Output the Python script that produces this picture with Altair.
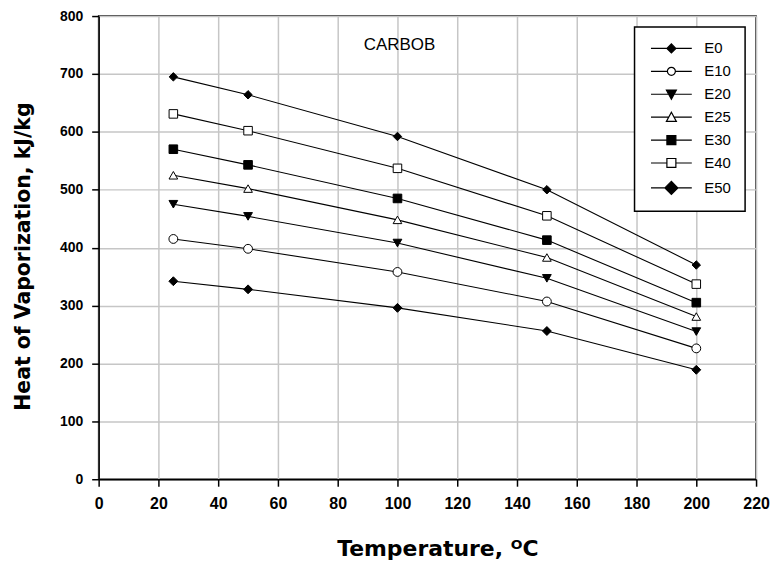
import altair as alt
import pandas as pd

# ---- data ----
temps = [25, 50, 100, 150, 200]
series_names = ["E0", "E10", "E20", "E25", "E30", "E40", "E50"]
e0 = [342, 328, 296, 256, 189]
e10 = [415, 398, 358, 307, 226]
e20 = [475, 454, 408, 347, 255]
e25 = [525, 502, 448, 383, 281]
e30 = [570, 543, 485, 413, 305]
e40 = [631, 602, 537, 455, 337]
e50 = [695, 664, 592, 500, 370]
x_ticks = list(range(0, 221, 20))
y_ticks = list(range(0, 801, 100))

values = {"E0": e0, "E10": e10, "E20": e20, "E25": e25,
          "E30": e30, "E40": e40, "E50": e50}
rows = [{"T": t, "H": v, "series": s}
        for s in series_names for t, v in zip(temps, values[s])]
df = pd.DataFrame(rows)

# ---- styles ----
marker_shapes = ["diamond", "circle", "triangle-down", "triangle-up",
                 "square", "square", "diamond"]
marker_fills = ["black", "white", "black", "white", "black", "white", "black"]
marker_sizes = [80, 72, 120, 100, 85, 85, 190]
legend_paths = [
    "M-4.1,0H4.1M-0.9,0L0,-0.9L0.9,0L0,0.9Z",
    "M-4.1,0H-0.8M0.8,0H4.1M0.8,0A0.8,0.8 0 1,1 -0.8,0A0.8,0.8 0 1,1 0.8,0Z",
    "M-4.1,0H4.1M-1,-0.85L1,-0.85L0,1Z",
    "M-4.1,0H-0.54M0.54,0H4.1M0,-1L1,0.85L-1,0.85Z",
    "M-4.1,0H4.1M-0.9,-0.9H0.9V0.9H-0.9Z",
    "M-4.1,0H-0.9M0.9,0H4.1M-0.9,-0.9H0.9V0.9H-0.9Z",
    "M-4.1,0H4.1M-1.3,0L0,-1.3L1.3,0L0,1.3Z",
]

x_enc = alt.X("T:Q", scale=alt.Scale(domain=[0, 220], nice=False),
              axis=alt.Axis(values=x_ticks, title="Temperature, \u1d3cC",
                            titleX=340))
y_enc = alt.Y("H:Q", scale=alt.Scale(domain=[0, 800], nice=False),
              axis=alt.Axis(values=y_ticks, title="Heat of Vaporization, kJ/kg",
                            titleY=241))

lines = alt.Chart(df).mark_line(color="black", strokeWidth=1.1).encode(
    x=x_enc, y=y_enc, detail="series:N"
)

points = alt.Chart(df).mark_point(opacity=1, stroke="black", strokeWidth=1).encode(
    x="T:Q", y="H:Q",
    shape=alt.Shape("series:N", scale=alt.Scale(domain=series_names, range=marker_shapes), legend=None),
    fill=alt.Fill("series:N", scale=alt.Scale(domain=series_names, range=marker_fills), legend=None),
    size=alt.Size("series:N", scale=alt.Scale(domain=series_names, range=marker_sizes), legend=None),
)

legend_layer = alt.Chart(df).transform_filter("false").mark_point(
    opacity=1, stroke="black", strokeWidth=1.2
).encode(
    x="T:Q", y="H:Q",
    shape=alt.Shape("series:N", scale=alt.Scale(domain=series_names, range=legend_paths), title=None),
    fill=alt.Fill("series:N", scale=alt.Scale(domain=series_names, range=marker_fills), title=None),
)

chart = alt.layer(lines, points, legend_layer).resolve_scale(
    shape="independent", fill="independent", size="independent"
).properties(
    width=660, height=465,
    padding={"left": 5, "top": 0, "right": 0, "bottom": 0},
    title=alt.TitleParams("CARBOB", offset=-45, dx=-28, fontSize=17,
                          fontWeight="normal", font="Liberation Sans", color="black"),
).configure_view(
    stroke="black", strokeWidth=1.5
).configure_axis(
    domainColor="black", domainWidth=1.5, tickColor="black", tickWidth=1.5,
    tickSize=7, gridColor="#c6c6c6", gridWidth=1.5, labelColor="black",
    titleColor="black", labelFlush=False, labelOverlap=False
).configure_axisX(
    labelFont="Liberation Sans Narrow, Arial Narrow, Liberation Sans", labelFontSize=16,
    labelFontWeight="bold", labelPadding=9, titleFont="DejaVu Sans", titleFontSize=22,
    titleFontWeight="bold", titlePadding=28
).configure_axisY(
    labelFont="Liberation Sans", labelFontSize=14, labelFontWeight="bold",
    labelPadding=9, titleFont="DejaVu Sans", titleFontSize=20.5,
    titleFontWeight="bold", titlePadding=26
).configure_legend(
    orient="top-right", offset=11, padding=14, strokeColor="black",
    strokeWidth=1.5, fillColor="white", symbolSize=100, symbolStrokeWidth=1.2,
    symbolOffset=15.5, labelOffset=25.5, rowPadding=7, labelFontSize=15,
    labelFont="Liberation Sans", labelColor="black", cornerRadius=0
)

chart.save("out.html", embed_options={"renderer": "svg", "actions": False})
